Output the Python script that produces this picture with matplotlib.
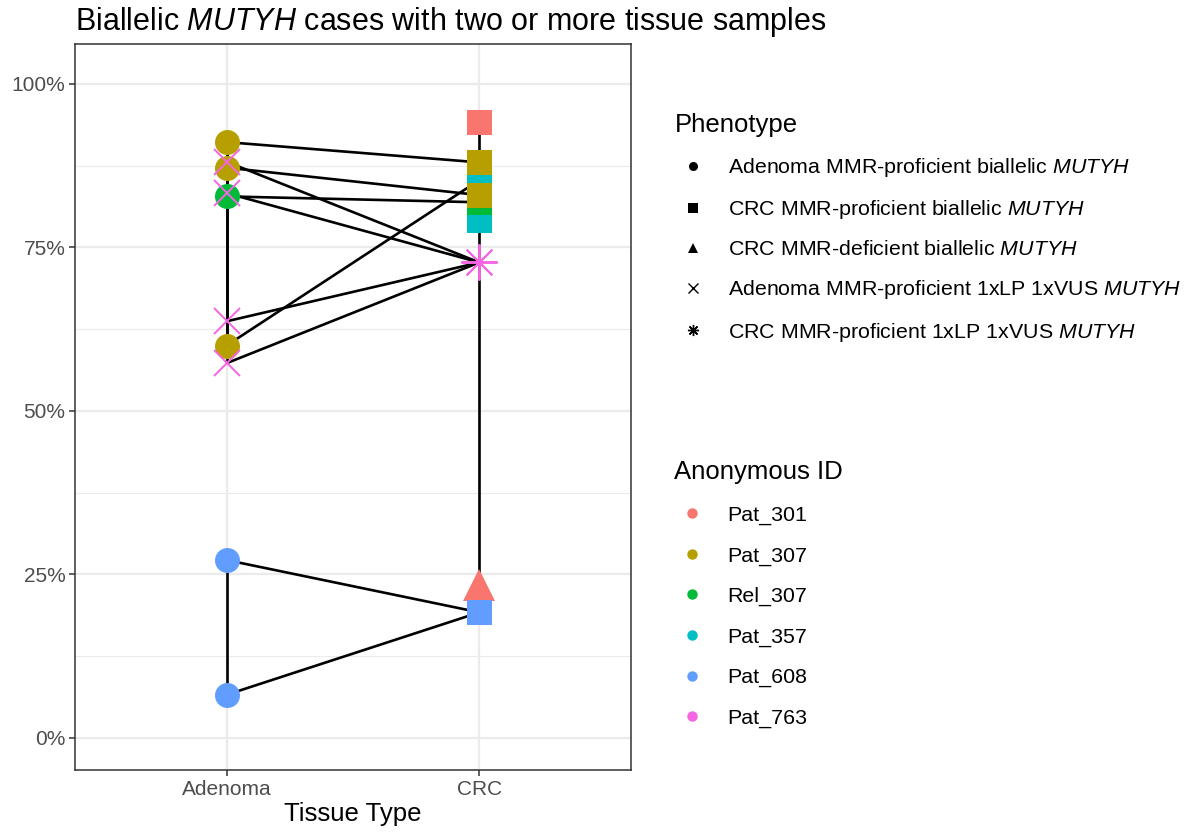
import matplotlib
matplotlib.use("Agg")
import matplotlib.pyplot as plt
from matplotlib.lines import Line2D

plt.rcParams['font.family'] = ['Liberation Sans', 'DejaVu Sans']
plt.rcParams['mathtext.fontset'] = 'custom'
plt.rcParams['mathtext.it'] = 'Liberation Sans:italic'
plt.rcParams['mathtext.rm'] = 'Liberation Sans'

# samples: tissue, variant allele fraction (%), patient, phenotype
tissue = ['CRC', 'CRC',
          'Adenoma', 'Adenoma', 'Adenoma', 'CRC', 'CRC', 'CRC',
          'Adenoma', 'CRC',
          'CRC', 'CRC',
          'Adenoma', 'Adenoma', 'CRC',
          'Adenoma', 'Adenoma', 'Adenoma', 'Adenoma', 'CRC']
vaf = [94.2, 23.4,
       91.1, 87.2, 60.0, 88.0, 85.3, 83.0,
       82.8, 81.9,
       84.3, 79.2,
       27.2, 6.6, 19.2,
       88.1, 83.3, 63.7, 57.3, 72.7]
patient = ['Pat_301', 'Pat_301',
           'Pat_307', 'Pat_307', 'Pat_307', 'Pat_307', 'Pat_307', 'Pat_307',
           'Rel_307', 'Rel_307',
           'Pat_357', 'Pat_357',
           'Pat_608', 'Pat_608', 'Pat_608',
           'Pat_763', 'Pat_763', 'Pat_763', 'Pat_763', 'Pat_763']
phenotype = ['crc_bi', 'crc_dmmr',
             'ad_bi', 'ad_bi', 'ad_bi', 'crc_bi', 'crc_bi', 'crc_bi',
             'ad_bi', 'crc_bi',
             'crc_bi', 'crc_bi',
             'ad_bi', 'ad_bi', 'crc_bi',
             'ad_vus', 'ad_vus', 'ad_vus', 'ad_vus', 'crc_vus']

# sample pairs joined by a line (indices into the lists above)
links = [(0, 1),
         (2, 3), (3, 4), (2, 5), (3, 7), (4, 6), (5, 6), (6, 7),
         (8, 9),
         (10, 11),
         (12, 13), (12, 14), (13, 14),
         (15, 16), (16, 17), (17, 18), (15, 19), (16, 19), (17, 19), (18, 19)]

# drawing order of the points (later ones on top)
draw_order = [11, 9, 6, 5, 10, 7, 0, 1, 14, 12, 13, 2, 3, 4, 8, 15, 16, 17, 18, 19]

tissue_levels = ['Adenoma', 'CRC']
id_levels = ['Pat_301', 'Pat_307', 'Rel_307', 'Pat_357', 'Pat_608', 'Pat_763']
id_colors = ['#F8766D', '#B79F00', '#00BA38', '#00BFC4', '#619CFF', '#F564E3']
pheno_levels = ['ad_bi', 'crc_bi', 'crc_dmmr', 'ad_vus', 'crc_vus']
pheno_labels = ['Adenoma MMR-proficient biallelic $\\it{MUTYH}$',
                'CRC MMR-proficient biallelic $\\it{MUTYH}$',
                'CRC MMR-deficient biallelic $\\it{MUTYH}$',
                'Adenoma MMR-proficient 1xLP 1xVUS $\\it{MUTYH}$',
                'CRC MMR-proficient 1xLP 1xVUS $\\it{MUTYH}$']
pheno_marker = {'ad_bi': 'o', 'crc_bi': 's', 'crc_dmmr': '^', 'ad_vus': 'x', 'crc_vus': (8, 2, 0)}
pheno_size = {'ad_bi': 18, 'crc_bi': 18, 'crc_dmmr': 23, 'ad_vus': 19, 'crc_vus': 26}
pheno_legend_size = {'ad_bi': 6.5, 'crc_bi': 6.5, 'crc_dmmr': 7, 'ad_vus': 6.5, 'crc_vus': 8}

color_of = dict(zip(id_levels, id_colors))
xpos = [tissue_levels.index(t) + 1 for t in tissue]

fig = plt.figure(figsize=(11.84, 8.35), dpi=100)
ax = fig.add_axes([75 / 1184, 65 / 835, 556 / 1184, 726 / 835])

for a, b in links:
    ax.plot([xpos[a], xpos[b]], [vaf[a], vaf[b]], color='black', lw=1.9,
            solid_capstyle='butt', zorder=2)

for i in draw_order:
    ph = phenotype[i]
    col = color_of[patient[i]]
    line_marker = ph in ('ad_vus', 'crc_vus')
    ax.plot(xpos[i], vaf[i], linestyle='none', marker=pheno_marker[ph],
            markersize=pheno_size[ph], color=col,
            markeredgecolor=col, markeredgewidth=1.4 if line_marker else 0,
            zorder=3)

ax.set_xlim(0.4, 2.6)
ax.set_ylim(-4.9, 106.1)
ax.set_xticks([1, 2])
ax.set_xticklabels(tissue_levels)
ax.set_yticks([0, 25, 50, 75, 100])
ax.set_yticklabels(['0%', '25%', '50%', '75%', '100%'])
ax.set_yticks([12.5, 37.5, 62.5, 87.5], minor=True)
ax.grid(True, which='major', color='#EBEBEB', lw=1.6, zorder=0)
ax.grid(True, which='minor', axis='y', color='#EBEBEB', lw=0.8, zorder=0)
ax.set_axisbelow(True)
for s in ax.spines.values():
    s.set_color('#333333')
    s.set_linewidth(1.1)
ax.tick_params(which='major', length=4, width=1.1, color='#333333',
               labelsize=15, labelcolor='#4D4D4D', pad=3)
ax.tick_params(which='minor', length=0)
ax.set_xlabel('Tissue Type', fontsize=18.5, labelpad=2)

fig.text(75 / 1184, 1 - 22 / 835, 'Biallelic $\\it{MUTYH}$ cases with two or more tissue samples',
         fontsize=22, ha='left', va='center')

pheno_handles = [Line2D([], [], linestyle='none', marker=pheno_marker[p], color='black',
                        markersize=pheno_legend_size[p], markeredgewidth=1.0 if p in ('ad_vus', 'crc_vus') else 0)
                 for p in pheno_levels]
leg1 = fig.legend(pheno_handles, pheno_labels, title='Phenotype', loc='upper left',
                  bbox_to_anchor=(655 / 1184, 1 - 93 / 835), frameon=False,
                  fontsize=15.4, title_fontsize=18.5, alignment='left',
                  labelspacing=0.89, handlelength=1.68, handletextpad=0.8,
                  borderpad=0.45)

id_handles = [Line2D([], [], linestyle='none', marker='o', color=c, markersize=7.5,
                     markeredgewidth=0) for c in id_colors]
leg2 = fig.legend(id_handles, id_levels, title='Anonymous ID', loc='upper left',
                  bbox_to_anchor=(655 / 1184, 1 - 441 / 835), frameon=False,
                  fontsize=15.4, title_fontsize=18.5, alignment='left',
                  labelspacing=1.0, handlelength=1.68, handletextpad=0.8)

fig.savefig('out.png', dpi=100)
